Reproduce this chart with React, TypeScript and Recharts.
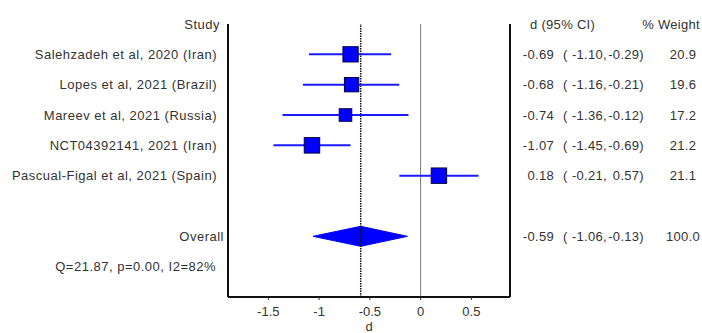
import React from 'react'
import {
  ComposedChart,
  Scatter,
  ErrorBar,
  XAxis,
  YAxis,
  ReferenceLine,
  ReferenceArea,
} from 'recharts'

// study rows
const studies = [
  'Salehzadeh et al, 2020 (Iran)',
  'Lopes et al, 2021 (Brazil)',
  'Mareev et al, 2021 (Russia)',
  'NCT04392141, 2021 (Iran)',
  'Pascual-Figal et al, 2021 (Spain)',
]
const effects = [-0.69, -0.68, -0.74, -1.07, 0.18]
const lower = [-1.1, -1.16, -1.36, -1.45, -0.21]
const upper = [-0.29, -0.21, -0.12, -0.69, 0.57]
const weights = [20.9, 19.6, 17.2, 21.2, 21.1]

// pooled estimate
const overallEffect = -0.59
const overallLower = -1.06
const overallUpper = -0.13
const overallWeight = 100.0
const heterogeneity = 'Q=21.87, p=0.00, I2=82%'

const xTicks = [-1.5, -1, -0.5, 0, 0.5]

const FONT = '"Liberation Sans", Arial, sans-serif'
const TEXT = '#333'

// row index -> what goes in each row (0 = header, 7 = overall, 8 = stats)
const studyData = studies.map((name, i) => ({
  name,
  x: effects[i],
  y: i + 1,
  ci: [effects[i] - lower[i], upper[i] - effects[i]],
  w: weights[i],
}))

const fmt = (v: number) => v.toFixed(2)

const LeftTick = (props: any) => {
  const { x, y, payload } = props
  const row = payload.value
  let label = ''
  let dx = -3
  if (row === 0) { label = 'Study'; dx = 0 }
  else if (row >= 1 && row <= studies.length) label = studies[row - 1]
  else if (row === 7) { label = 'Overall'; dx = 4 }
  else if (row === 8) { label = heterogeneity; dx = -4 }
  return (
    <text x={x + dx} y={y} dy="0.35em" textAnchor="end" fontSize={13}
      letterSpacing={0.5} fontFamily={FONT} fill={TEXT}>
      {label}
    </text>
  )
}

const RightTick = (props: any) => {
  const { x, y, payload } = props
  const row = payload.value
  const common = { y, dy: '0.35em', fontSize: 13, letterSpacing: 0.3, fontFamily: FONT, fill: TEXT }
  if (row === 0) {
    return (
      <g>
        <text {...common} x={x + 12} textAnchor="start">d (95% CI)</text>
        <text {...common} x={x + 182} textAnchor="end">% Weight</text>
      </g>
    )
  }
  let d: number, lo: number, hi: number, w: number
  if (row >= 1 && row <= studies.length) {
    d = effects[row - 1]; lo = lower[row - 1]; hi = upper[row - 1]; w = weights[row - 1]
  } else if (row === 7) {
    d = overallEffect; lo = overallLower; hi = overallUpper; w = overallWeight
  } else {
    return null
  }
  return (
    <g>
      <text {...common} x={x + 36} textAnchor="end">{fmt(d)}</text>
      <text {...common} x={x + 45} textAnchor="start">(</text>
      <text {...common} x={x + 89} textAnchor="end">{fmt(lo) + ','}</text>
      <text {...common} x={x + 126} textAnchor="end">{fmt(hi) + ')'}</text>
      <text {...common} x={x + 165} textAnchor="middle">{w.toFixed(1)}</text>
    </g>
  )
}

const StudySquare = (props: any) => {
  const { cx, cy, payload } = props
  const s = payload.w * 0.73
  return <rect x={cx - s / 2} y={cy - s / 2} width={s} height={s} fill="#0000ff" stroke="#000040" strokeWidth={1} />
}

const Diamond = (props: any) => {
  const { x, y, width, height } = props
  const f = (overallEffect - overallLower) / (overallUpper - overallLower)
  const pts = [
    [x, y + height / 2],
    [x + f * width, y],
    [x + width, y + height / 2],
    [x + f * width, y + height],
  ]
  return <polygon points={pts.map((p) => p.join(',')).join(' ')} fill="#0000ff" stroke="#0000ff" />
}

export default function App() {
  return (
    <div style={{ position: 'absolute', left: 0, top: 0, background: '#fff', fontFamily: FONT }}>
      <ComposedChart width={702} height={333} margin={{ top: 24, right: 0, bottom: 0, left: 0 }}>
        <XAxis
          type="number"
          dataKey="x"
          domain={[-1.897, 0.88]}
          ticks={xTicks}
          allowDataOverflow
          axisLine={{ stroke: '#111', strokeWidth: 2 }}
          tickLine={{ stroke: '#333' }}
          tickSize={3}
          tickMargin={7}
          height={36}
          tick={{ fill: TEXT, fontSize: 13, fontFamily: FONT }}
          label={{ value: 'd', position: 'insideBottom', offset: 2, fill: TEXT, fontSize: 13, fontFamily: FONT }}
        />
        <YAxis
          yAxisId="left"
          type="number"
          dataKey="y"
          domain={[0, 9]}
          reversed
          allowDataOverflow
          ticks={[0, 1, 2, 3, 4, 5, 7, 8]}
          interval={0}
          width={228}
          axisLine={{ stroke: '#111', strokeWidth: 2 }}
          tickLine={false}
          tick={<LeftTick />}
        />
        <YAxis
          yAxisId="right"
          orientation="right"
          type="number"
          dataKey="y"
          domain={[0, 9]}
          reversed
          allowDataOverflow
          ticks={[0, 1, 2, 3, 4, 5, 7]}
          interval={0}
          width={192}
          axisLine={{ stroke: '#111', strokeWidth: 2 }}
          tickLine={false}
          tick={<RightTick />}
        />
        <ReferenceLine yAxisId="left" x={0} stroke="#777" strokeWidth={1} />
        <ReferenceLine yAxisId="left" x={overallEffect} stroke="#111" strokeWidth={1.5} strokeDasharray="1.5 1" />
        <Scatter yAxisId="left" data={studyData} shape={<StudySquare />} isAnimationActive={false}>
          <ErrorBar dataKey="ci" direction="x" width={0} stroke="#1a1aff" strokeWidth={2} />
        </Scatter>
        <ReferenceArea
          yAxisId="right"
          x1={overallLower}
          x2={overallUpper}
          y1={6.67}
          y2={7.33}
          shape={<Diamond />}
        />
      </ComposedChart>
    </div>
  )
}
